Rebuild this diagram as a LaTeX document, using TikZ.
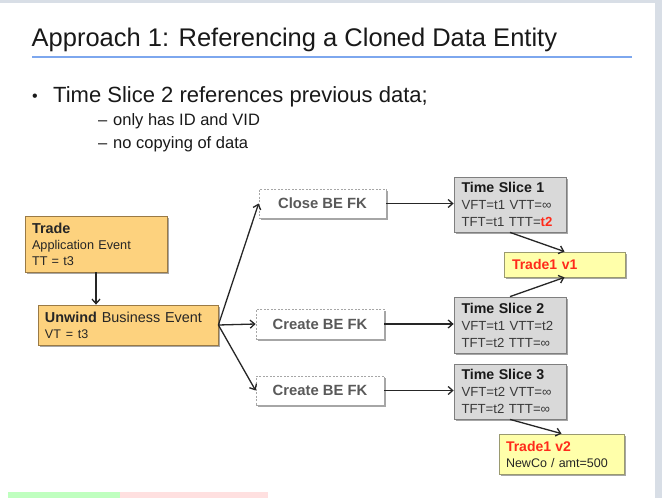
\documentclass[tikz,border=0pt]{standalone}
\usepackage{fontspec}
\setmainfont{Liberation Sans}
\usetikzlibrary{arrows.meta,shadows}
\definecolor{orfill}{HTML}{FDD27E}
\definecolor{ordraw}{HTML}{9A7A45}
\definecolor{gyfill}{HTML}{D9D9D9}
\definecolor{gydraw}{HTML}{7F7F7F}
\definecolor{ylfill}{HTML}{FFFFAA}
\definecolor{yldraw}{HTML}{9A9A70}
\definecolor{txtgray}{HTML}{3A3A3A}
\definecolor{fkgray}{HTML}{595959}
\definecolor{redtxt}{HTML}{FF2A1A}
\definecolor{titleline}{HTML}{7DA7EE}
\definecolor{framegray}{HTML}{D8DEE6}
\begin{document}
\begin{tikzpicture}[x=1pt,y=-1pt,
  shad/.style={drop shadow={shadow xshift=1.5pt,shadow yshift=-1.5pt,opacity=0.35,fill=black}},
  orbox/.style={draw=ordraw,fill=orfill,line width=0.8pt,shad,align=left,inner sep=0pt,
     font=\fontsize{12.7}{16}\selectfont,text=black!85},
  fkbox/.style={draw=gray!70,dashed,dash pattern=on 2pt off 1.5pt,fill=white,line width=0.8pt,
     shad,minimum width=127pt,minimum height=29pt,inner sep=0pt,
     font=\fontsize{14.8}{16}\selectfont\bfseries,text=fkgray},
  tsbox/.style={draw=gydraw,fill=gyfill,line width=0.8pt,shad,minimum width=112pt,minimum height=55pt,
     align=left,inner sep=0pt,text width=97pt,font=\fontsize{13.2}{17}\selectfont,text=txtgray},
  ylbox/.style={draw=yldraw,fill=ylfill,line width=0.8pt,shad,align=left,inner sep=0pt},
  arr/.style={line width=1.3pt,draw=black!85,-{Straight Barb[length=4.5pt,width=8pt,line width=1.3pt]}}
]
\useasboundingbox (0,0) rectangle (662,498);
\fill[white] (0,0) rectangle (662,498);
% frame artifacts of the slide
\fill[framegray] (0,0) rectangle (662,3);
\fill[framegray] (655,0) rectangle (662,498);
\fill[green!25] (8,492) rectangle (120,498);
\fill[red!12] (120,492) rectangle (268,498);

% title
\node[anchor=base west,inner sep=0pt,font=\fontsize{25.5}{28}\selectfont,text=black!90] (title) at (31.5,46.5)
  {Approach 1: Referencing a Cloned Data Entity};
\draw[titleline,line width=1.6pt] (32,57) -- (632,57);

% bullets
\node[anchor=base west,inner sep=0pt,font=\fontsize{22}{24}\selectfont,text=black!90] (b1) at (32,102)
  {\makebox[21pt][l]{\fontsize{16}{16}\selectfont\raisebox{1pt}{•}}Time Slice 2 references previous data;};
\node[anchor=base west,inner sep=0pt,font=\fontsize{16.5}{18}\selectfont,text=black!90] (b2) at (98,125.5)
  {\makebox[15pt][l]{–}only has ID and VID};
\node[anchor=base west,inner sep=0pt,font=\fontsize{16.5}{18}\selectfont,text=black!90] (b3) at (98,148.5)
  {\makebox[15pt][l]{–}no copying of data};

% left boxes
\node[orbox,minimum width=142pt,minimum height=56pt,text width=128pt] (trade) at (96,244)
  {{\fontsize{14.4}{16}\selectfont\bfseries Trade}\\Application Event\\TT = t3};
\node[orbox,minimum width=180pt,minimum height=40pt,text width=166pt,font=\fontsize{14.4}{16}\selectfont] (unwind) at (128,325)
  {\textbf{Unwind} Business Event\\{\fontsize{12.5}{16}\selectfont VT = t3}};

% FK boxes
\node[fkbox] (close) at (322.5,203.5) {Close BE FK};
\node[fkbox,minimum width=128pt,minimum height=30pt] (create1) at (320,324) {Create BE FK};
\node[fkbox,minimum width=128pt] (create2) at (320,390.5) {Create BE FK};

% time slices
\node[tsbox] (ts1) at (510,204.5)
  {{\fontsize{14.2}{17}\selectfont\bfseries\color{black!90}Time Slice 1}\\VFT=t1 VTT=∞\\TFT=t1 TTT={\bfseries\color{redtxt}t2}};
\node[tsbox,minimum height=56pt] (ts2) at (510,325)
  {{\fontsize{14.2}{17}\selectfont\bfseries\color{black!90}Time Slice 2}\\VFT=t1 VTT=t2\\TFT=t2 TTT=∞};
\node[tsbox] (ts3) at (510,391.5)
  {{\fontsize{14.2}{17}\selectfont\bfseries\color{black!90}Time Slice 3}\\VFT=t2 VTT=∞\\TFT=t2 TTT=∞};

% trades
\node[ylbox,minimum width=121pt,minimum height=25pt,text width=105pt,font=\fontsize{14}{16}\selectfont\bfseries,text=redtxt] (v1) at (564.5,264.5)
  {Trade1 v1};
\node[ylbox,minimum width=125pt,minimum height=40pt,text width=111pt,font=\fontsize{12.5}{16}\selectfont,text=black!85] (v2) at (561.5,454)
  {{\fontsize{14}{16}\selectfont\bfseries\color{redtxt}Trade1 v2}\\NewCo / amt=500};

% connectors
\draw[arr] (trade.south) -- (unwind.north -| trade.south);
\draw[arr] (unwind.east) -- (close.west);
\draw[arr] (unwind.east) -- (create1.west);
\draw[arr] (unwind.east) -- (create2.west);
\draw[arr] (close.east) -- (ts1.west |- close.east);
\draw[arr] (create1.east) -- (ts2.west |- create1.east);
\draw[arr] (create2.east) -- (ts3.west |- create2.east);
\draw[arr] (ts1.south) -- (v1.north);
\draw[arr] (ts2.north) -- (v1.south);
\draw[arr] (ts3.south) -- (v2.north);
\end{tikzpicture}
\end{document}
